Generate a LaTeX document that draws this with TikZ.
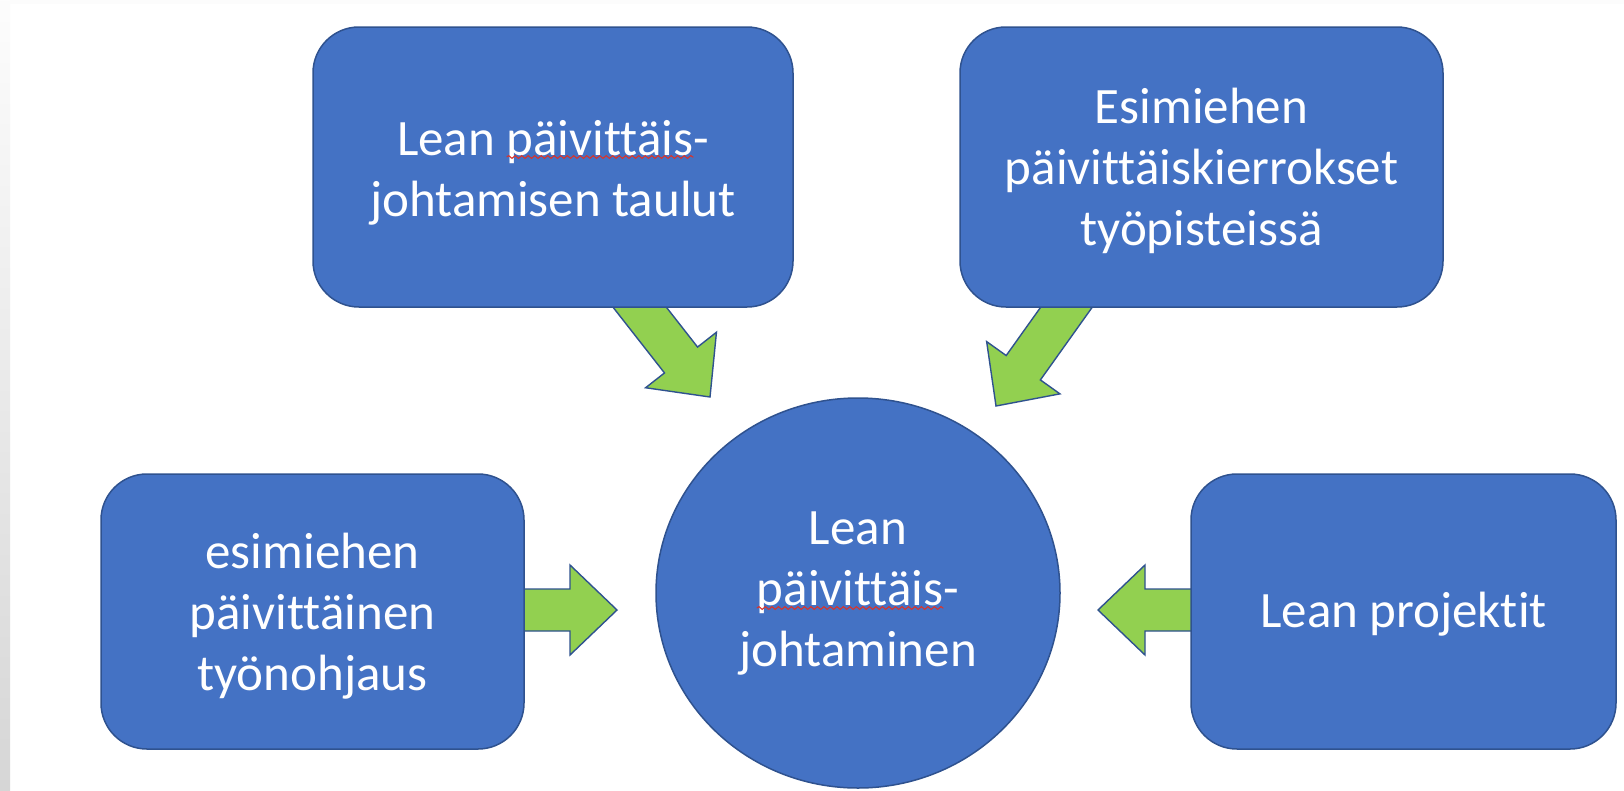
\documentclass[tikz,border=0pt]{standalone}
\usepackage{fontspec}
\setmainfont{Carlito}[Ligatures={NoCommon}]
\usetikzlibrary{shapes.geometric,calc,decorations.pathmorphing}

\definecolor{boxblue}{HTML}{4472C4}
\definecolor{edgeblue}{HTML}{2F528F}
\definecolor{arrowgreen}{HTML}{92D050}
\definecolor{wavered}{HTML}{D9342B}
\definecolor{framegray}{HTML}{D6D6D6}

\newcommand\boxfont{\fontsize{51pt}{61pt}\selectfont}
% invisible rule that sets the height of a first line of text
\newcommand\lead[1]{\rule{0pt}{#1}}
\newlength\lineWd \newlength\leadWd \newlength\wordWd \newlength\hubWd

% block arrow from #1 (tail) to #2 (tip)
\def\shw{21pt}\def\hdw{45pt}\def\hdl{47pt}
\newcommand\blockarrow[2]{%
  \draw[blockarrow]
    ($(#1)!\shw!90:(#2)$)
    -- ($($(#2)!\hdl!(#1)$)!\shw!90:(#2)$)
    -- ($($(#2)!\hdl!(#1)$)!\hdw!90:(#2)$)
    -- (#2)
    -- ($($(#2)!\hdl!(#1)$)!\hdw!-90:(#2)$)
    -- ($($(#2)!\hdl!(#1)$)!\shw!-90:(#2)$)
    -- ($(#1)!\shw!-90:(#2)$) -- cycle;}

\pgfdeclarelayer{background}
\pgfsetlayers{background,main}

\begin{document}
\settowidth\lineWd{\boxfont Lean päivittäis-}%
\settowidth\leadWd{\boxfont Lean\ }%
\settowidth\wordWd{\boxfont päivittäis}%
\settowidth\hubWd{\boxfont päivittäis-}%
\pgfmathsetmacro\tlWaveA{-0.5*\lineWd+\leadWd}%
\pgfmathsetmacro\tlWaveB{-0.5*\lineWd+\leadWd+\wordWd}%
\pgfmathsetmacro\hubWaveA{-0.5*\hubWd}%
\pgfmathsetmacro\hubWaveB{-0.5*\hubWd+\wordWd}%
\begin{tikzpicture}[x=1pt,y=-1pt,
  boxtext/.style={text=white,align=center,font=\boxfont},
  infobox/.style={boxtext,draw=edgeblue,line width=1.5pt,fill=boxblue,rounded corners=46pt,inner sep=0pt},
  hub/.style={boxtext,ellipse,draw=edgeblue,line width=1.5pt,fill=boxblue,inner sep=0pt},
  blockarrow/.style={fill=arrowgreen,draw=edgeblue,line width=1.4pt,line join=miter},
  spellwave/.style={draw=wavered,line width=1.1pt,decorate,
    decoration={snake,amplitude=1.4pt,segment length=6.5pt}}]

\useasboundingbox (0,0) rectangle (1624,790);

% boxes
\node[infobox,minimum width=480pt,minimum height=280pt] (tl) at (553,167)
  {\lead{46pt}Lean päivittäis-\\johtamisen taulut};
\node[infobox,minimum width=483pt,minimum height=280pt] (tr) at (1201.5,167)
  {\lead{44pt}Esimiehen\\päivittäiskierrokset\\työpisteissä};
\node[infobox,minimum width=423pt,minimum height=275pt] (bl) at (312.5,611.5)
  {\lead{44pt}esimiehen\\päivittäinen\\työnohjaus};
\node[infobox,minimum width=425pt,minimum height=275pt] (br) at (1403.5,611.5)
  {\lead{40pt}Lean projektit};
\node[hub,minimum width=404pt,minimum height=390pt] (hub) at (858,593)
  {Lean\\päivittäis-\\johtaminen};

% wavy underlines under the flagged word
\draw[spellwave] ($(tl.center)+(\tlWaveA,-10)$) -- ($(tl.center)+(\tlWaveB,-10)$);
\draw[spellwave] ($(hub.center)+(\hubWaveA,15)$) -- ($(hub.center)+(\hubWaveB,15)$);

% arrow ends
\coordinate (tlA) at (627,291);
\coordinate (tlB) at (710,397);
\coordinate (trA) at (1078,291);
\coordinate (trB) at (996,406);
\coordinate (blA) at (505,610);
\coordinate (blB) at (617,610);
\coordinate (brA) at (1208,610);
\coordinate (brB) at (1098,610);

\begin{pgfonlayer}{background}
  \fill[white] (0,0) rectangle (1624,790);
  \shade[top color=white!94!framegray,bottom color=framegray] (0,0) rectangle (10,790);
  \fill[white!92!framegray] (10,0) rectangle (1624,4);
  \blockarrow{tlA}{tlB}
  \blockarrow{trA}{trB}
  \blockarrow{blA}{blB}
  \blockarrow{brA}{brB}
\end{pgfonlayer}
\end{tikzpicture}
\end{document}
